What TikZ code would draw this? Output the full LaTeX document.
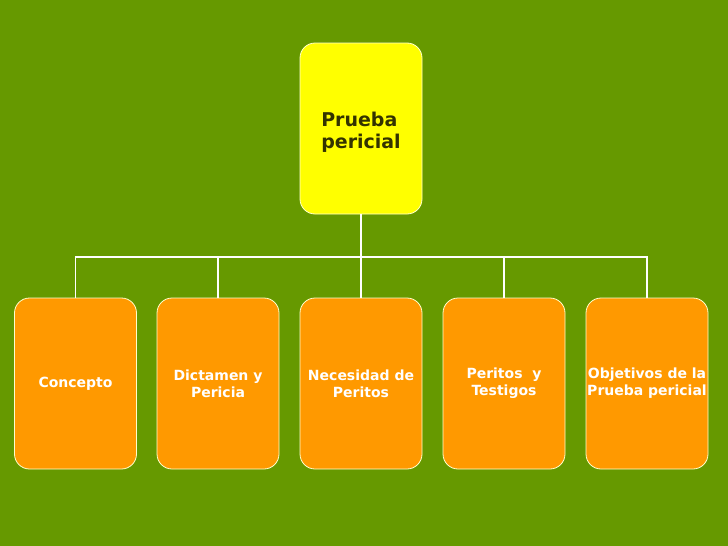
\documentclass[tikz,border=0pt]{standalone}
\usepackage{fontspec}
\setmainfont{DejaVu Sans}
\usetikzlibrary{positioning,calc}
\definecolor{fondo}{HTML}{669900}
\definecolor{amarillo}{HTML}{FFFF00}
\definecolor{naranja}{HTML}{FF9900}
\definecolor{oliva}{HTML}{333300}
\definecolor{borde}{HTML}{FFFFCC}

\begin{document}
\begin{tikzpicture}[
  x=1pt, y=1pt,
  caja/.style={draw=borde, line width=0.8pt, rounded corners=15pt, minimum width=122pt, minimum height=171pt, inner sep=0pt},
  raiz/.style={caja, fill=amarillo, text=oliva, align=left, text height=44pt, font=\fontsize{19}{22}\selectfont\bfseries},
  hoja/.style={caja, fill=naranja, text=white, align=center, font=\fontsize{14}{17}\selectfont\bfseries},
  enlace/.style={draw=white, line width=1.8pt}
]
% fondo verde, fija el marco de 728 x 546
\fill[fondo] (0,0) rectangle (728,-546);
\useasboundingbox (0,0) rectangle (728,-546);

% nodo raiz
\node[raiz] (prueba) at (361,-128.5) {Prueba\\ pericial};

% nodos hijos, de izquierda a derecha
\foreach \k/\x/\txt in {1/75.5/Concepto, 2/218/{Dictamen y\\Pericia}, 3/361/{Necesidad de\\Peritos}, 4/504/{Peritos\ \ y\\Testigos}, 5/647/{Objetivos de la\\Prueba pericial}} {
  \node[hoja] (h\k) at (\x,-383.5) {\txt};
}

% conectores: tronco, barra y bajadas
\coordinate (barra) at (361,-257);
\foreach \k in {1,...,5} {
  \draw[enlace] (prueba.south) -- (prueba.south |- barra) -| (h\k.north);
}
\end{tikzpicture}
\end{document}
